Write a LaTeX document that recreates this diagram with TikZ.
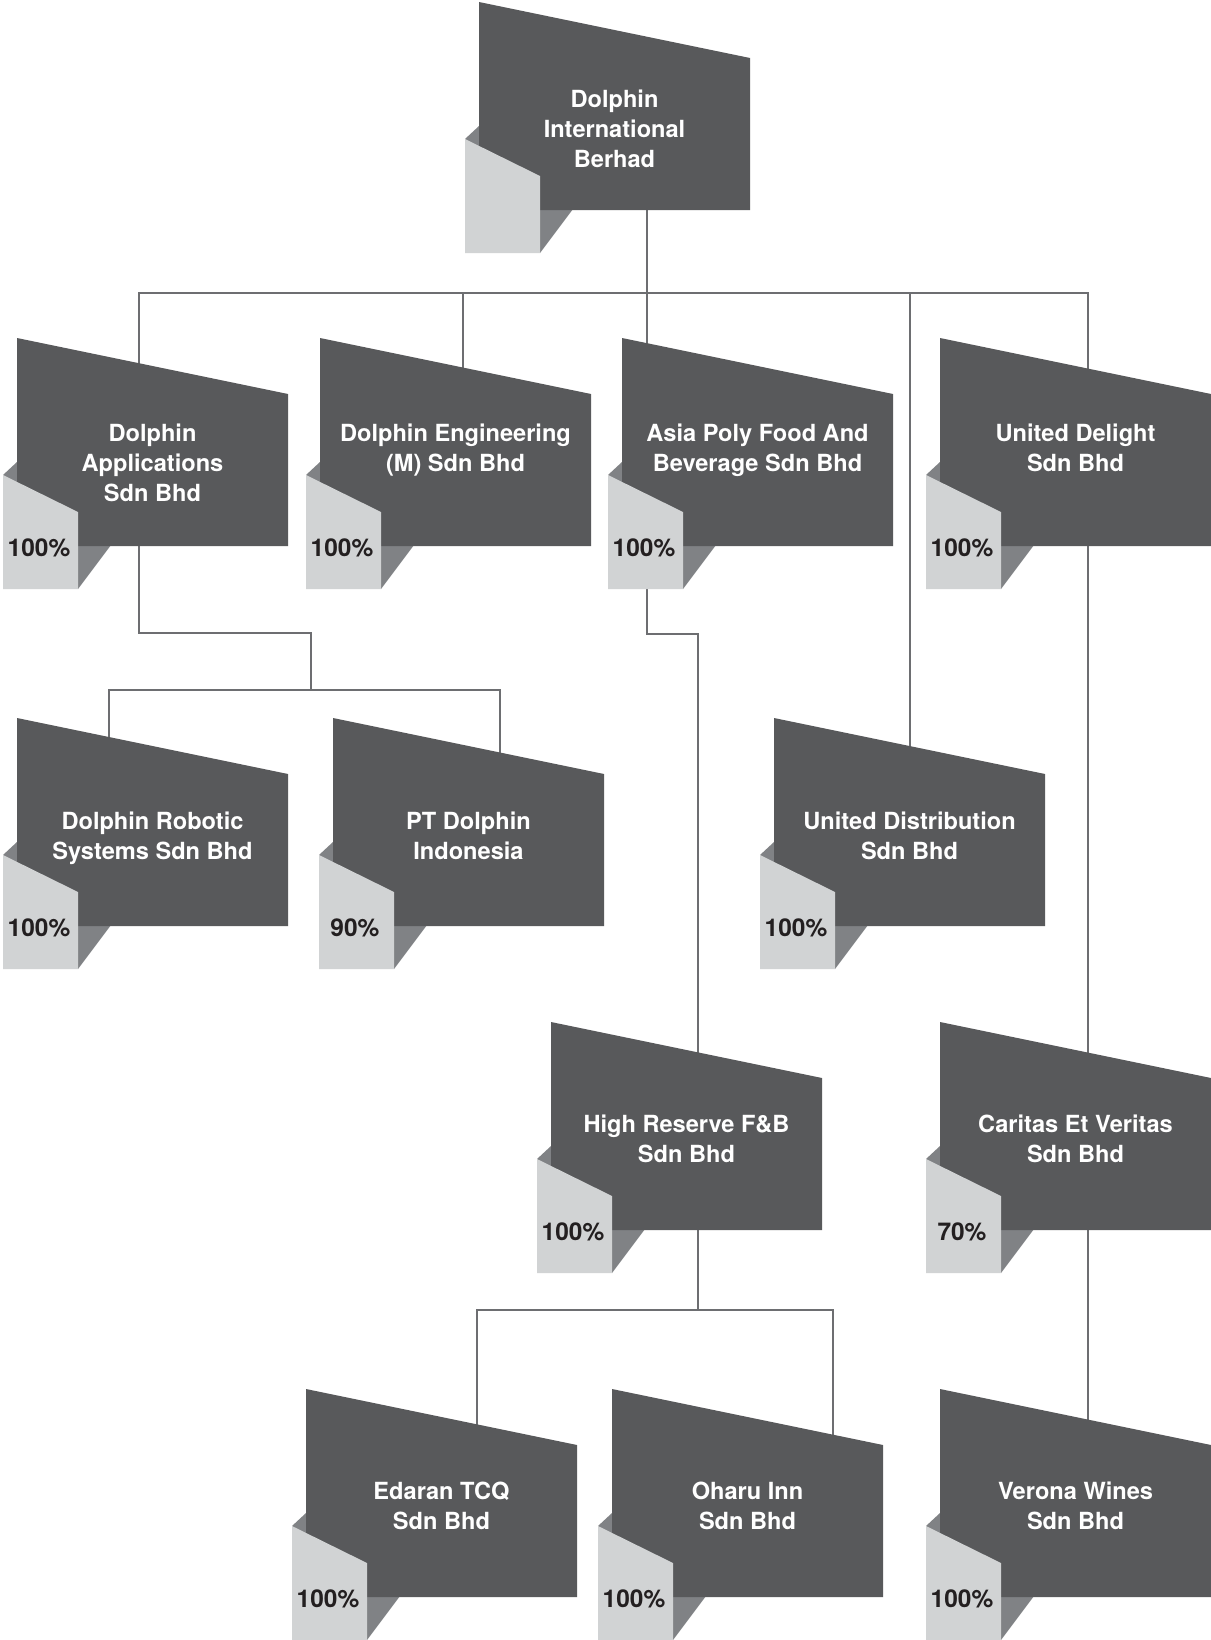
\documentclass[tikz,border=0pt]{standalone}
\usepackage{fontspec}
\setmainfont{TeX Gyre Heros}
\definecolor{darkface}{HTML}{58595B}
\definecolor{lightface}{HTML}{D1D3D4}
\definecolor{midface}{HTML}{808285}
\definecolor{connc}{HTML}{6D6E71}
\definecolor{pctc}{HTML}{231F20}
\pgfdeclarelayer{bg}
\pgfsetlayers{bg,main}
\tikzset{
  labeltext/.style={text=white, font=\fontsize{23.6}{30}\selectfont\bfseries, align=center, inner sep=0pt, anchor=north},
  pcttext/.style={text=pctc, font=\fontsize{24.5}{28}\selectfont\bfseries, inner sep=0pt},
  conn/.style={draw=connc, line width=2.6pt, line join=miter},
}
\newcommand\orgbox[6]{%
 \begin{scope}[shift={(#2,#3)}]
  \fill[midface] (-14,137) -- (0,124) -- (0,150) -- cycle;
  \fill[midface] (61,207) -- (94,207) -- (61,251) -- cycle;
  \fill[darkface] (0,0) -- (271,56) -- (271,208) -- (0,208) -- cycle;
  \fill[lightface] (-14,137) -- (61,174) -- (61,251) -- (-14,251) -- cycle;
  \node[labeltext] (#1) at (135.5,#6) {#4};
  \node[pcttext] (#1-pct) at (22,210) {#5};
 \end{scope}}
\begin{document}
\begin{tikzpicture}[x=1pt,y=-1pt]
\useasboundingbox (0,0) rectangle (1210,1640);
% boxes
\orgbox{top}{479}{2}{Dolphin\\International\\Berhad}{}{88}
\orgbox{A}{17}{338}{Dolphin\\Applications\\Sdn Bhd}{100\%}{86}
\orgbox{B}{320}{338}{Dolphin Engineering\\(M) Sdn Bhd}{100\%}{86}
\orgbox{C}{622}{338}{Asia Poly Food And\\Beverage Sdn Bhd}{100\%}{86}
\orgbox{D}{940}{338}{United Delight\\Sdn Bhd}{100\%}{86}
\orgbox{E}{17}{718}{Dolphin Robotic\\Systems Sdn Bhd}{100\%}{94}
\orgbox{F}{333}{718}{PT Dolphin\\Indonesia}{90\%}{94}
\orgbox{G}{774}{718}{United Distribution\\Sdn Bhd}{100\%}{94}
\orgbox{H}{551}{1022}{High Reserve F\&B\\Sdn Bhd}{100\%}{93}
\orgbox{I}{940}{1022}{Caritas Et Veritas\\Sdn Bhd}{70\%}{93}
\orgbox{J}{306}{1389}{Edaran TCQ\\Sdn Bhd}{100\%}{93}
\orgbox{K}{612}{1389}{Oharu Inn\\Sdn Bhd}{100\%}{93}
\orgbox{L}{940}{1389}{Verona Wines\\Sdn Bhd}{100\%}{93}
% connector points
\coordinate (top-out) at (647,150);
\coordinate (b1) at (139,293);
\coordinate (b2) at (463,293);
\coordinate (b3) at (647,293);
\coordinate (b4) at (910,293);
\coordinate (b5) at (1088,293);
\coordinate (A-in) at (139,420);
\coordinate (B-in) at (463,420);
\coordinate (C-in) at (647,420);
\coordinate (D-in) at (1088,420);
\coordinate (G-in) at (910,790);
\coordinate (A-out) at (139,520);
\coordinate (ja) at (139,633);
\coordinate (jb) at (311,633);
\coordinate (jc) at (311,690);
\coordinate (b2l) at (109,690);
\coordinate (b2r) at (500,690);
\coordinate (E-in) at (109,790);
\coordinate (F-in) at (500,790);
\coordinate (C-out) at (647,560);
\coordinate (jd) at (647,634);
\coordinate (je) at (698,634);
\coordinate (H-in) at (698,1090);
\coordinate (H-out) at (698,1200);
\coordinate (jf) at (698,1310);
\coordinate (b3l) at (477,1310);
\coordinate (b3r) at (833,1310);
\coordinate (J-in) at (477,1460);
\coordinate (K-in) at (833,1460);
\coordinate (D-out) at (1088,520);
\coordinate (I-in) at (1088,1090);
\coordinate (I-out) at (1088,1200);
\coordinate (L-in) at (1088,1460);
\begin{pgfonlayer}{bg}
\fill[white] (0,0) rectangle (1210,1640);
\draw[conn] (top-out) -- (C-in);
\draw[conn] (A-in) -- (b1) -- (b5) -- (D-in);
\draw[conn] (b2) -- (B-in);
\draw[conn] (b4) -- (G-in);
\draw[conn] (A-out) -- (ja) -- (jb) -- (jc);
\draw[conn] (E-in) -- (b2l) -- (b2r) -- (F-in);
\draw[conn] (C-out) -- (jd) -- (je) -- (H-in);
\draw[conn] (H-out) -- (jf);
\draw[conn] (J-in) -- (b3l) -- (b3r) -- (K-in);
\draw[conn] (D-out) -- (I-in);
\draw[conn] (I-out) -- (L-in);
\end{pgfonlayer}
\end{tikzpicture}
\end{document}
